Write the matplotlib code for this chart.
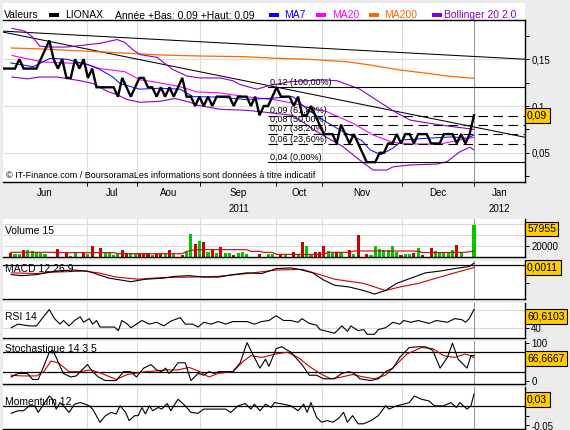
import numpy as np
import matplotlib
matplotlib.use('Agg')
import matplotlib.pyplot as plt
from matplotlib.patches import Rectangle
from matplotlib.transforms import blended_transform_factory

plt.rcParams['font.family'] = ['Liberation Sans', 'DejaVu Sans']

W, H = 570.0, 430.0

# x axis is the trading session index (0 = first session with a volume bar)
x_lo, x_hi = -1.8, 119.9
month_edges = [17.8, 29.4, 44.1, 61.8, 72.6, 91.2]
year_edge = 108
month_names = ['Jun', 'Jul', 'Aou', 'Sep', 'Oct', 'Nov', 'Dec', 'Jan']
year_names = ['2011', '2012']

# daily closes (cents), sessions -2 .. 108
close_day = np.arange(-2, 109)
close_cents = [14, 14, 14, 14, 15, 14, 14, 14, 14, 15,
               16, 17, 15, 14, 15, 13, 13, 15, 14, 15,
               13, 14, 12, 12, 12, 12, 12, 11, 13, 12,
               11, 12, 13, 13, 12, 12, 11, 12, 11, 12,
               11, 12, 13, 11, 11, 10, 11, 10, 11, 10,
               11, 11, 11, 11, 10, 11, 11, 11, 10, 11,
               9, 10, 10, 11, 12, 11, 11, 11, 10, 11,
               9, 9, 10, 9, 8, 7, 7, 7, 6, 8,
               7, 6, 7, 6, 5, 4, 4, 4, 5, 5,
               6, 6, 7, 6, 7, 7, 6, 7, 7, 7,
               6, 6, 6, 7, 7, 7, 6, 7, 6, 7,
               9]
close = np.array(close_cents) / 100.0

ma7_day = [0, 5.2, 9.2, 13.1, 15.5, 17.8, 20.8, 23.8, 25.5, 30.1, 34.8, 39.5, 42.5, 48.8, 54.6,
           59.7, 65.8, 69.1, 72.8, 77.5, 81.9, 83.8, 86.3, 89.1, 91.4, 97.0, 103.1, 106.4, 108]
ma7 = [0.146, 0.142, 0.151, 0.150, 0.147, 0.1445, 0.139, 0.131, 0.124, 0.118, 0.119, 0.118, 0.110,
       0.1095, 0.107, 0.108, 0.110, 0.0965, 0.085, 0.0725, 0.063, 0.053, 0.048, 0.055, 0.0637,
       0.0655, 0.067, 0.0655, 0.069]

ma20_day = [0.3, 3.3, 7.5, 13.1, 17.8, 20.8, 26.6, 30.1, 33.2, 39.5, 43.4, 48.8, 54.6, 61.1, 65.8,
            69.1, 73.7, 79.8, 84.5, 89.1, 93.8, 100.1, 104.7, 108]
ma20 = [0.154, 0.151, 0.147, 0.146, 0.1445, 0.140, 0.1366, 0.128, 0.126, 0.1206, 0.115, 0.114,
        0.110, 0.107, 0.103, 0.099, 0.094, 0.0815, 0.069, 0.061, 0.0594, 0.0594, 0.0637, 0.0665]

ma200_day = [0.1, 6.8, 15.5, 26.6, 34.8, 44.6, 54.6, 61.8, 69.1, 78.4, 83.8, 90.7, 97.0, 101.7, 108]
ma200 = [0.162, 0.161, 0.159, 0.1566, 0.1545, 0.1534, 0.1527, 0.151, 0.150, 0.1473, 0.1438,
         0.1385, 0.135, 0.132, 0.1296]

boll_up_day = [0.3, 3.3, 5.0, 6.8, 9.2, 13.1, 16.9, 20.8, 24.8, 26.6, 28.5, 30.1, 34.1, 35.5, 37.8,
               41.1, 44.1, 48.8, 51.8, 53.4, 57.4, 60.4, 65.1, 72.8, 76.1, 81.4, 85.4, 89.1, 93.1,
               97.0, 101.9, 104.7, 108]
boll_up = [0.183, 0.180, 0.174, 0.164, 0.163, 0.163, 0.165, 0.167, 0.171, 0.168, 0.160, 0.155,
           0.152, 0.147, 0.139, 0.132, 0.130, 0.130, 0.127, 0.123, 0.118, 0.122, 0.126, 0.128,
           0.127, 0.118, 0.106, 0.095, 0.085, 0.082, 0.0786, 0.077, 0.075]

boll_dn_day = [0.3, 3.8, 6.8, 10.8, 16.2, 19.2, 22.4, 24.8, 27.1, 30.1, 34.8, 38.3, 41.8, 43.4, 48.8,
               54.6, 58.1, 65.8, 71.4, 77.5, 81.4, 84.5, 87.7, 89.1, 93.1, 99.4, 101.7, 104.7,
               107.1, 108]
boll_dn = [0.131, 0.129, 0.131, 0.131, 0.127, 0.124, 0.116, 0.112, 0.107, 0.104, 0.105, 0.108,
           0.104, 0.101, 0.0965, 0.0955, 0.094, 0.090, 0.0725, 0.0565, 0.042, 0.0316, 0.0316,
           0.035, 0.037, 0.038, 0.0405, 0.051, 0.056, 0.053]

# hand drawn trend lines (end points)
trend_day = [-1.8, 119.9]
trend_upper = [0.180, 0.150]
trend_lower = [0.179, 0.0666]

# Fibonacci retracement between the low and the high
fib_low, fib_high = 0.04, 0.12
fib_ratios = [0.0, 0.236, 0.382, 0.5, 0.618, 1.0]
fib_start = 60.0

vol_day = [0, 1, 2, 3, 4, 5, 6, 7, 8, 11, 13, 14, 15, 17, 18, 19,
           21, 22, 23, 24, 25, 26, 27, 28, 29, 30, 31, 32, 33, 34, 35, 36, 37, 38,
           40, 41, 42, 43, 44, 45, 46, 47, 48, 49, 50, 51, 52, 53, 54, 55,
           58, 60, 61, 63, 64, 66, 67, 68, 69, 70, 71, 72, 73, 74, 75, 76, 77,
           79, 80, 81, 83, 84, 85, 86, 87, 88, 89, 90, 91, 92, 93, 94, 95, 96,
           98, 99, 100, 101, 102, 103, 104, 105, 108]
vol = [7900, 6000, 6000, 12100, 12100, 10900, 9100, 7300, 4800, 15200, 7300, 2400, 7300, 7300, 6000, 19400,
       17000, 7900, 7900, 3000, 6000, 12100, 7300, 7300, 6000, 7900, 6000, 7900, 3000, 4800, 6000, 4800, 12100, 6000,
       4200, 9100, 41200, 23000, 29000, 26700, 9100, 12100, 7300, 18200, 7300, 7900, 3600, 7000, 9100, 5500,
       5500, 6000, 6000, 4200, 3600, 8500, 4800, 26700, 19400, 3000, 9100, 9100, 19400, 10300, 7900, 9100, 9100,
       12100, 4800, 39400, 4800, 3000, 20000, 13900, 12100, 12100, 19400, 9100, 3000, 4800, 4800, 7300, 15800, 3000,
       15800, 10300, 7300, 7300, 9700, 12100, 21800, 7300, 57955]
vol_up = [0, 1, 1, 0, 1, 1, 1, 1, 1, 0, 0, 1, 1, 0, 1, 0,
          0, 1, 1, 1, 1, 0, 0, 1, 1, 0, 0, 0, 1, 0, 0, 1, 0, 1,
          0, 1, 1, 0, 1, 0, 1, 0, 1, 0, 1, 1, 0, 1, 1, 1,
          0, 1, 1, 0, 1, 0, 1, 0, 1, 1, 0, 0, 0, 1, 1, 0, 1,
          0, 1, 0, 0, 1, 1, 1, 1, 1, 1, 1, 0, 1, 1, 0, 1, 0,
          0, 1, 1, 1, 1, 1, 0, 1, 1]
volma_day = [0, 10, 11, 24, 25, 40, 41, 43, 55, 56, 58, 59, 61, 62, 73, 74, 79, 80, 95, 96, 106, 108]
volma = [8500, 8500, 7900, 7900, 6000, 6000, 10300, 13300, 13300, 10300, 10300, 8500, 8500, 4800,
         4800, 8500, 8500, 10900, 10900, 7900, 8500, 10900]

macd_day = [0.1, 2.6, 6.0, 10.2, 14.5, 17.9, 20.4, 22.9, 25.5, 28.0, 31.4, 35.7, 38.2, 41.6, 45.0, 48.4,
            51.8, 55.1, 58.5, 61.9, 65.3, 67.9, 70.4, 72.9, 75.5, 78.9, 82.3, 84.8, 87.4, 89.9, 93.3,
            96.7, 100.1, 103.5, 106.9, 108]
macd = [-0.0054, -0.0060, -0.0054, -0.0034, -0.0028, -0.0034, -0.0054, -0.0074, -0.0084, -0.0094,
        -0.0080, -0.0074, -0.0064, -0.0060, -0.0068, -0.0068, -0.0054, -0.0044, -0.0048, -0.0020,
        -0.0016, -0.0028, -0.0044, -0.0084, -0.0114, -0.0124, -0.0144, -0.0164, -0.0144, -0.0104,
        -0.0074, -0.0044, -0.0034, -0.0020, -0.0008, 0.0011]
signal_day = [0.1, 6.0, 10.2, 17.0, 20.4, 24.6, 29.7, 35.7, 41.6, 48.4, 55.1, 61.9, 67.9, 72.1, 75.5,
              82.3, 87.4, 90.7, 95.0, 99.2, 103.5, 108]
signal = [-0.0044, -0.0048, -0.0040, -0.0034, -0.0044, -0.0068, -0.0080, -0.0070, -0.0068, -0.0064,
          -0.0048, -0.0028, -0.0024, -0.0054, -0.0080, -0.0104, -0.0144, -0.0124, -0.0104, -0.0074,
          -0.0044, -0.0014]

rsi_day = [0.1, 1.7, 4.3, 6.0, 7.3, 9.0, 10.2, 11.5, 12.3, 13.6, 14.9, 16.2, 17.0, 18.3, 19.1, 20.0,
           20.8, 24.2, 25.1, 25.9, 27.2, 28.0, 29.3, 30.6, 32.3, 34.0, 35.7, 37.3, 39.5, 40.7, 42.4,
           43.7, 45.0, 46.7, 48.4, 50.1, 51.8, 53.5, 55.1, 56.8, 58.5, 60.2, 61.9, 63.6, 65.3, 67.0,
           67.9, 69.6, 71.3, 72.1, 73.8, 75.5, 77.2, 78.5, 79.3, 81.0, 82.3, 83.1, 84.8, 85.7, 87.4,
           89.1, 90.7, 91.6, 93.3, 95.0, 97.5, 99.2, 101.8, 103.5, 105.2, 106.0, 106.9, 108]
rsi = [40, 44.1, 42.1, 42.1, 50.3, 60.6, 50.3, 44.1, 48.2, 42.1, 48.2, 52.4, 46.2, 50.3, 44.1, 48.2,
       40.8, 40.8, 36.7, 48.2, 44.1, 40, 44.1, 48.2, 44.1, 46.2, 42.1, 47.4, 51.5, 44.1, 44.1,
       40.8, 46.2, 44.1, 47, 44.1, 47, 47, 47, 44.1, 47, 48.2, 53.6, 48.2, 48.2, 46.2,
       50.3, 44.9, 42.9, 37.9, 35.9, 33.8, 42.1, 35.9, 42.1, 36.7, 37.9, 32.6, 32.6, 37.9, 40,
       46.2, 44.1, 48.2, 46.2, 48.2, 44.9, 48.2, 46.2, 50.3, 49.1, 46.2, 50.3, 60.6103]

stk_day = [0.1, 1.7, 3.9, 5.1, 6.4, 7.7, 9.0, 9.8, 10.6, 11.5, 12.3, 14.0, 15.3, 16.2, 17.9, 19.1,
           20.4, 22.1, 24.6, 26.3, 28.0, 29.3, 31.0, 32.7, 34.0, 35.2, 36.1, 36.9, 37.8, 39.0, 40.7,
           42.0, 43.7, 45.0, 46.2, 47.5, 48.4, 51.8, 53.5, 55.1, 56.8, 58.1, 59.4, 60.2, 61.9, 63.2,
           65.3, 67.9, 69.6, 71.3, 72.9, 75.5, 77.2, 78.9, 80.1, 81.4, 84.0, 85.7, 87.4, 89.1, 90.7,
           92.9, 95.0, 96.7, 98.4, 100.1, 101.8, 103.0, 104.3, 106.4, 107.3, 108]
stk = [11, 20.2, 20.2, 4.6, 4.6, 38.5, 75.2, 79.8, 61.5, 38.5, 20.2, 11, 13.8, 24.8, 43.1, 24.8,
       11, 1.8, 1.8, 24.8, 24.8, 11, 33.9, 43.1, 29.4, 24.8, 33.9, 20.2, 29.4, 47.7, 47.7,
       1.8, 20.2, 15.6, 24.8, 20.2, 24.8, 24.8, 47.7, 100, 61.5, 33.9, 56.9, 38.5, 84.4, 89,
       75.2, 43.1, 15.6, 15.6, 6.4, 6.4, 20.2, 24.8, 20.2, 6.4, 1.8, 6.4, 24.8, 33.9, 61.5,
       87.2, 89, 89, 79.8, 33.9, 61.5, 98.2, 56.9, 33.9, 66.1, 66.6667]
std_day = [0.1, 2.6, 6.0, 7.7, 9.4, 11.1, 13.6, 16.2, 18.7, 21.2, 24.6, 27.2, 31.4, 34.0, 36.5, 39.0,
           41.6, 43.7, 46.2, 48.4, 51.8, 54.3, 56.0, 58.5, 61.9, 64.5, 67.0, 69.6, 72.1, 74.6, 77.2,
           79.7, 82.3, 84.8, 87.4, 89.9, 92.4, 95.8, 98.4, 100.9, 103.5, 106.0, 108]
std = [15.6, 13.8, 13.8, 24.8, 52.3, 47.7, 24.8, 24.8, 29.4, 20.2, 4.6, 17.4, 24.8, 26.6, 29.4, 29.4,
       35.8, 26.6, 11, 20.2, 24.8, 52.3, 66.1, 61.5, 70.6, 75.2, 61.5, 38.5, 20.2, 6.4, 11,
       17.4, 11, 6.4, 15.6, 43.1, 70.6, 87.2, 84.4, 66.1, 61.5, 70.6, 61.5]
stoch_levels = [25, 75]

mom_day = [0.1, 1.7, 3.0, 4.3, 5.6, 6.4, 7.7, 9.0, 9.8, 10.6, 11.5, 12.3, 13.6, 14.9, 16.2, 17.4,
           18.3, 19.1, 20.8, 22.1, 23.4, 24.6, 25.5, 26.8, 27.6, 28.9, 29.7, 30.6, 31.4, 32.3, 33.1,
           34.4, 35.2, 36.5, 37.3, 39.0, 40.7, 42.0, 43.7, 45.0, 48.4, 50.1, 51.3, 53.0, 54.7, 56.0,
           56.8, 58.1, 59.4, 60.7, 61.5, 63.6, 65.3, 67.0, 68.3, 69.1, 70.0, 71.3, 72.5, 73.8, 75.1,
           76.3, 77.6, 78.5, 79.7, 81.0, 82.3, 84.0, 85.7, 87.4, 88.2, 89.9, 91.6, 92.9, 94.1, 95.8,
           97.5, 98.8, 100.9, 102.6, 103.9, 104.7, 106.4, 107.3, 108]
mom = [-0.019, -0.0125, -0.0125, 0, 0, -0.0167, 0.0042, 0.025, 0.0167, -0.0083, 0.0083, 0, -0.0167,
       0.0042, 0.0083, 0.0042, 0, -0.0083, -0.0417, -0.025, -0.0167, -0.0208, 0, -0.0167, -0.0375,
       -0.025, -0.025, -0.0042, -0.0208, 0, -0.0125, -0.0042, -0.0083, 0.0058, -0.0125, 0.0167, 0,
       -0.0167, -0.019, -0.0083, -0.0083, -0.0083, -0.0167, 0, 0.0058, -0.0083, 0.0042, -0.0125,
       0.0042, -0.0042, 0.0083, 0.0042, 0, -0.0125, 0.0042, -0.0167, 0.0083, -0.0292, -0.0417,
       -0.0375, -0.0417, -0.0333, -0.0167, -0.0417, -0.025, -0.0458, -0.0458, -0.0375, -0.025, 0,
       -0.0083, 0, 0.0042, 0.0083, 0.025, 0.0167, 0.0125, 0, 0, 0.0083, -0.0042, 0.0083, -0.0083,
       0, 0.03]

BG = '#ececec'
GRID = '#dcdcdc'
BLUE = '#0000ff'
MAGENTA = '#ff00ff'
ORANGE = '#ff6600'
PURPLE = '#8800cc'
RED = '#cc0000'
GREEN = '#00c800'
YELLOW = '#ffcc00'


def fbox(x0, y0, x1, y1):
    return [x0 / W, 1 - y1 / H, (x1 - x0) / W, (y1 - y0) / H]


def fr(x):
    return ('%s' % x).replace('.', ',')


def style_panel(ax):
    ax.set_facecolor('white')
    ax.set_xlim(x_lo, x_hi)
    ax.spines['left'].set_visible(False)
    ax.spines['top'].set_visible(False)
    ax.spines['bottom'].set_linewidth(1.0)
    ax.spines['right'].set_linewidth(1.0)
    ax.yaxis.tick_right()
    ax.tick_params(axis='y', direction='out', length=3, width=0.7, pad=1.5, labelsize=7)
    ax.tick_params(axis='x', length=0, labelbottom=False)
    ax.set_xticks([])
    for m in month_edges:
        ax.axvline(m, color=GRID, lw=0.8, zorder=0)
    ax.axvline(year_edge, color='#999999', lw=0.8, zorder=1)


def panel_label(ax, yfrac, text):
    ax.text(0.004, yfrac, text, transform=ax.transAxes, va='center', ha='left',
            fontsize=7.5, zorder=20)


def value_box(ax, y, text, trans=None):
    if trans is None:
        trans = ax.transAxes
    ax.text(1.004, y, text, transform=trans, ha='left', va='center', fontsize=7.5,
            bbox=dict(boxstyle='square,pad=0.22', fc=YELLOW, ec='black', lw=0.8),
            clip_on=False, zorder=30)


def main():
    fig = plt.figure(figsize=(W / 100, H / 100), dpi=100)
    fig.patch.set_facecolor(BG)

    # header strip
    fig.add_artist(Rectangle((3 / W, 1 - 20 / H), 522 / W, 17 / H, transform=fig.transFigure,
                             fc='white', ec='none', zorder=0))
    header = [('Valeurs', 4, 'black'), ('LIONAX', 65, 'black'),
              ('Année +Bas: 0,09 +Haut: 0,09', 114.5, 'black'),
              ('MA7', 284, BLUE), ('MA20', 332, MAGENTA), ('MA200', 384, ORANGE),
              ('Bollinger 20 2.0', 444, PURPLE)]
    for txt, x, c in header:
        fig.text(x / W, 1 - 18.5 / H, txt, color=c, fontsize=7.5, va='baseline', ha='left')
    for x0, c in [(49, 'black'), (269, BLUE), (316, MAGENTA), (369, ORANGE), (432, PURPLE)]:
        fig.add_artist(Rectangle((x0 / W, 1 - 17 / H), 9.5 / W, 4.5 / H, transform=fig.transFigure,
                                 fc=c, ec='none'))

    # ---- price panel
    ax = fig.add_axes(fbox(3, 20, 525, 182))
    style_panel(ax)
    ax.spines['top'].set_visible(True)
    ax.spines['top'].set_linewidth(1.0)
    ax.set_ylim(0.0188, 0.1919)
    for lv in [0.05, 0.10, 0.15]:
        ax.axhline(lv, color=GRID, lw=0.8, zorder=0)
    ax.set_xticks(month_edges + [year_edge])
    ax.tick_params(axis='x', direction='out', length=3, width=0.7, labelbottom=False)
    yt = np.arange(0.025, 0.19, 0.025)
    ax.set_yticks(yt)
    ax.set_yticklabels([fr(round(v, 2)) if abs(v / 0.05 - round(v / 0.05)) < 1e-6 else '' for v in yt])

    ax.plot(trend_day, trend_upper, color='black', lw=0.75, zorder=3)
    ax.plot(trend_day, trend_lower, color='black', lw=0.75, zorder=3)
    ax.plot(ma200_day, ma200, color=ORANGE, lw=0.9, zorder=3)
    ax.plot(boll_up_day, boll_up, color=PURPLE, lw=0.8, zorder=3)
    ax.plot(boll_dn_day, boll_dn, color=PURPLE, lw=0.8, zorder=3)
    ax.plot(ma20_day, ma20, color=MAGENTA, lw=0.8, zorder=3)
    ax.plot(ma7_day, ma7, color=BLUE, lw=0.7, zorder=3)

    for r in fib_ratios:
        lv = fib_low + r * (fib_high - fib_low)
        if r in (0.0, 1.0):
            ls = '-'
        else:
            ls = (0, (8.5, 5))
        ax.plot([fib_start, x_hi], [lv, lv], color='black', lw=0.8, ls=ls, zorder=4)
        lab = '%.2f (%.2f%%)' % (lv, r * 100)
        ax.text(fib_start + 0.4, lv + 0.0006, lab.replace('.', ','), fontsize=6.5,
                va='bottom', ha='left', zorder=6)

    ax.plot(close_day, close, color='black', lw=1.7, zorder=5, solid_joinstyle='miter')

    ax.text(0.006, 0.043, '© IT-Finance.com / BoursoramaLes informations sont données à titre indicatif',
            transform=ax.transAxes, fontsize=6.5, va='center', ha='left', zorder=20)
    value_box(ax, close[-1], fr('%.2f' % close[-1]),
              blended_transform_factory(ax.transAxes, ax.transData))

    # month and year labels
    edges = [x_lo] + month_edges + [year_edge, x_hi]
    tr = blended_transform_factory(ax.transData, ax.transAxes)
    for i, name in enumerate(month_names):
        ax.text((edges[i] + edges[i + 1]) / 2, -0.068, name, transform=tr, ha='center', va='center',
                fontsize=7)
    ax.text((x_lo + year_edge) / 2, -0.167, year_names[0], transform=tr, ha='center', va='center',
            fontsize=7)
    ax.text((year_edge + x_hi) / 2, -0.167, year_names[1], transform=tr, ha='center', va='center',
            fontsize=7)

    # ---- volume
    axv = fig.add_axes(fbox(3, 219, 525, 257))
    style_panel(axv)
    axv.set_ylim(0, 69000)
    for lv in [20000, 40000, 60000]:
        axv.axhline(lv, color=GRID, lw=0.8, zorder=0)
    cols = [GREEN if u else RED for u in vol_up]
    axv.bar(vol_day, vol, width=0.72, color=cols, zorder=2)
    axv.plot(volma_day, volma, color=RED, lw=0.8, zorder=3)
    axv.set_yticks([20000, 40000, 60000])
    axv.set_yticklabels(['20000', '', ''])
    panel_label(axv, 0.68, 'Volume 15')
    value_box(axv, 0.74, '%d' % vol[-1])

    # ---- MACD
    axm = fig.add_axes(fbox(3, 261, 525, 299))
    style_panel(axm)
    axm.set_ylim(-0.0192, 0.0023)
    axm.axhline(0, color='black', lw=0.9, zorder=2)
    axm.plot(signal_day, signal, color=RED, lw=0.8, zorder=3)
    axm.plot(macd_day, macd, color='black', lw=0.8, zorder=4)
    axm.set_yticks([-0.01, 0])
    axm.set_yticklabels(['', ''])
    panel_label(axm, 0.78, 'MACD 12 26 9')
    value_box(axm, 0.83, fr('%.4f' % macd[-1]))

    # ---- RSI
    axr = fig.add_axes(fbox(3, 303, 525, 338))
    style_panel(axr)
    axr.set_ylim(28.4, 68)
    for lv in [40, 60]:
        axr.axhline(lv, color=GRID, lw=0.8, zorder=0)
    axr.plot(rsi_day, rsi, color='black', lw=0.8, zorder=3)
    axr.set_yticks([40, 60])
    axr.set_yticklabels(['40', ''])
    panel_label(axr, 0.59, 'RSI 14')
    value_box(axr, 0.61, fr('%.4f' % rsi[-1]))

    # ---- Stochastic
    axs = fig.add_axes(fbox(3, 341, 525, 384))
    style_panel(axs)
    axs.set_ylim(-7.1, 104)
    for lv in stoch_levels:
        axs.axhline(lv, color='black', lw=0.9, zorder=2)
    axs.plot(std_day, std, color=RED, lw=0.8, zorder=3)
    axs.plot(stk_day, stk, color='black', lw=0.8, zorder=4)
    axs.set_yticks([0, 50, 100])
    axs.set_yticklabels(['0', '', '100'])
    panel_label(axs, 0.81, 'Stochastique 14 3 5')
    value_box(axs, 0.59, fr('%.4f' % stk[-1]))

    # ---- Momentum
    axo = fig.add_axes(fbox(3, 387, 525, 429))
    style_panel(axo)
    axo.set_ylim(-0.059, 0.048)
    axo.axhline(0, color='black', lw=0.9, zorder=2)
    axo.plot(mom_day, mom, color='black', lw=0.8, zorder=3)
    axo.set_yticks([-0.05, -0.025, 0, 0.025])
    axo.set_yticklabels(['-0,05', '', '', ''])
    panel_label(axo, 0.64, 'Momentum 12')
    value_box(axo, 0.70, fr('%.2f' % mom[-1]))

    fig.savefig('out.png', dpi=100, facecolor=BG)


if __name__ == '__main__':
    main()
